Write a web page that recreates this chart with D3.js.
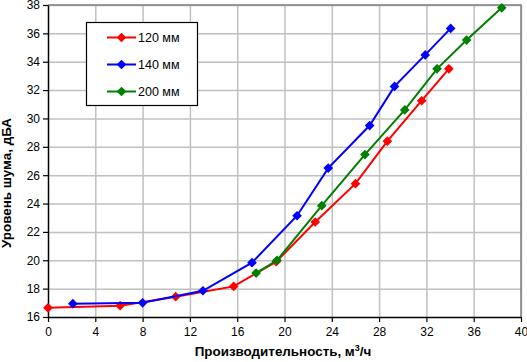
<!DOCTYPE html>
<html>
<head>
<meta charset="utf-8">
<script src="https://cdn.jsdelivr.net/npm/d3@7"></script>
<style>
  body { margin: 0; background: #fff; }
  svg { font-family: "Liberation Sans", Arial, sans-serif; }
</style>
</head>
<body>
<svg id="chart" width="527" height="362"></svg>
<script>
const seriesNames = ["120 мм", "140 мм", "200 мм"];
const seriesColors = ["#ff0000", "#0000ff", "#008000"];

const x120 = [0, 6.1, 10.8, 15.7, 19.3, 22.6, 26.0, 28.7, 31.6, 33.9];
const y120 = [16.65, 16.8, 17.43, 18.16, 19.9, 22.7, 25.4, 28.4, 31.25, 33.5];

const x140 = [2.1, 8.0, 13.1, 17.25, 21.06, 23.7, 27.2, 29.3, 31.9, 34.05];
const y140 = [16.94, 17.0, 17.85, 19.83, 23.14, 26.5, 29.5, 32.26, 34.48, 36.35];

const x200 = [17.6, 19.37, 23.15, 26.8, 30.17, 32.9, 35.4, 38.37];
const y200 = [19.1, 20.0, 23.85, 27.45, 30.6, 33.5, 35.53, 37.8];

const xTicks = [0, 4, 8, 12, 16, 20, 24, 28, 32, 36, 40];
const yTicks = [16, 18, 20, 22, 24, 26, 28, 30, 32, 34, 36, 38];

const series = [
  { name: seriesNames[0], color: seriesColors[0], pts: x120.map((v, i) => [v, y120[i]]) },
  { name: seriesNames[1], color: seriesColors[1], pts: x140.map((v, i) => [v, y140[i]]) },
  { name: seriesNames[2], color: seriesColors[2], pts: x200.map((v, i) => [v, y200[i]]) }
];

const svg = d3.select("#chart");
const margin = { top: 5, right: 6, bottom: 45, left: 48 };
const W = 527, H = 362;

const x = d3.scaleLinear().domain([0, 40]).range([margin.left, W - margin.right]);
const y = d3.scaleLinear().domain([16, 38]).range([H - margin.bottom, margin.top]);

// grid
svg.append("g").selectAll("line").data(xTicks.slice(1)).join("line")
  .attr("x1", d => x(d) + 0.5).attr("x2", d => x(d) + 0.5)
  .attr("y1", y(38)).attr("y2", y(16))
  .attr("stroke", "#c0c0c0").attr("stroke-width", 1.5);
svg.append("g").selectAll("line").data(yTicks.slice(1)).join("line")
  .attr("x1", x(0)).attr("x2", x(40))
  .attr("y1", d => y(d) + 0.5).attr("y2", d => y(d) + 0.5)
  .attr("stroke", "#c0c0c0").attr("stroke-width", 1.5);

// top/right frame
svg.append("path")
  .attr("d", `M${x(0)},${y(38)}H${x(40)}V${y(16)}`)
  .attr("fill", "none").attr("stroke", "#808080").attr("stroke-width", 1.5);

// axes
const xAxis = svg.append("g")
  .attr("transform", `translate(0,${y(16)})`)
  .call(d3.axisBottom(x).tickValues(xTicks).tickSize(5).tickSizeOuter(0));
const yAxis = svg.append("g")
  .attr("transform", `translate(${x(0)},0)`)
  .call(d3.axisLeft(y).tickValues(yTicks).tickSize(5).tickSizeOuter(0));

[xAxis, yAxis].forEach(g => {
  g.select(".domain").attr("stroke", "#000").attr("stroke-width", 1.5);
  g.selectAll(".tick line").attr("stroke", "#000").attr("stroke-width", 1.2);
  g.selectAll(".tick text").attr("font-size", 12).attr("fill", "#000")
    .attr("font-family", "Liberation Sans, Arial, sans-serif");
});
xAxis.selectAll(".tick text").attr("dy", "0.95em").attr("y", 8);
yAxis.selectAll(".tick text").attr("x", -8);

// lines and markers
const line = d3.line().x(d => x(d[0])).y(d => y(d[1]));
const diamond = d3.symbol().type(d3.symbolDiamond2).size(60);

series.forEach(s => {
  svg.append("path").datum(s.pts)
    .attr("d", line).attr("fill", "none")
    .attr("stroke", s.color).attr("stroke-width", 2);
  svg.append("g").selectAll("path").data(s.pts).join("path")
    .attr("transform", d => `translate(${x(d[0])},${y(d[1])})`)
    .attr("d", diamond).attr("fill", s.color);
});

// legend
const legend = svg.append("g").attr("transform", "translate(86,22)");
legend.append("rect").attr("x", 0.5).attr("y", 0.5).attr("width", 111).attr("height", 83)
  .attr("fill", "#fff").attr("stroke", "#000").attr("stroke-width", 1.2);
series.forEach((s, i) => {
  const ly = 15.5 + i * 27;
  legend.append("line").attr("x1", 21).attr("x2", 50).attr("y1", ly).attr("y2", ly)
    .attr("stroke", s.color).attr("stroke-width", 2);
  legend.append("path").attr("transform", `translate(35.5,${ly})`)
    .attr("d", diamond).attr("fill", s.color);
  legend.append("text").attr("x", 52).attr("y", ly).attr("dy", "0.36em")
    .attr("font-size", 12.5).text(s.name);
});

// axis titles
svg.append("text")
  .attr("x", 283).attr("y", 356)
  .attr("text-anchor", "middle").attr("font-size", 13.4).attr("font-weight", "bold")
  .html('Производительность, м<tspan dy="-5" font-size="9">3</tspan><tspan dy="5">/ч</tspan>');

svg.append("text")
  .attr("transform", "translate(11,183) rotate(-90)")
  .attr("text-anchor", "middle").attr("font-size", 13.4).attr("font-weight", "bold")
  .text("Уровень шума, дБА");
</script>
</body>
</html>
